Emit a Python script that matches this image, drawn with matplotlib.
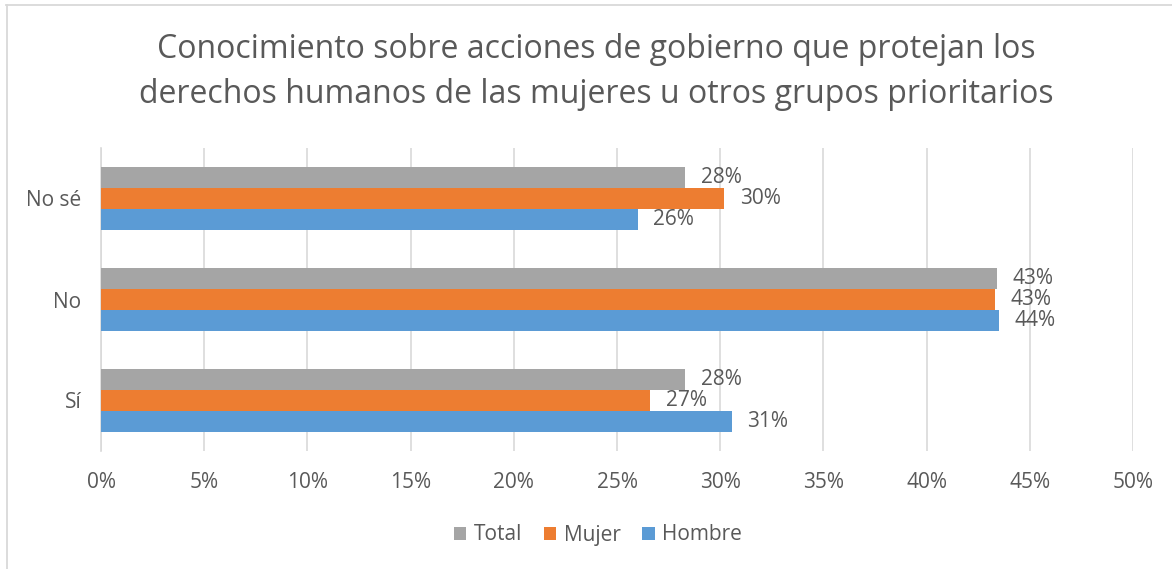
import matplotlib
matplotlib.use("Agg")
import matplotlib.pyplot as plt
from matplotlib.lines import Line2D
import numpy as np

categories = ["Sí", "No", "No sé"]
hombre = [30.55, 43.5, 26.0]
mujer = [26.6, 43.3, 30.2]
total = [28.3, 43.4, 28.3]
series_names = ["Hombre", "Mujer", "Total"]
colors = {"Hombre": "#5B9BD5", "Mujer": "#ED7D31", "Total": "#A5A5A5"}
xticks = [0, 5, 10, 15, 20, 25, 30, 35, 40, 45, 50]
title = "Conocimiento sobre acciones de gobierno que protejan los\nderechos humanos de las mujeres u otros grupos prioritarios"

plt.rcParams['font.family'] = ['Open Sans', 'DejaVu Sans']
text_color = "#595959"

fig = plt.figure(figsize=(11.72, 5.69), dpi=100)
# chart-area border (only top and left visible in the reference)
fig.add_artist(Line2D([6/1172, 1], [1 - 4.5/569, 1 - 4.5/569], transform=fig.transFigure,
                      color="#D9D9D9", linewidth=1.3))
fig.add_artist(Line2D([6.5/1172, 6.5/1172], [0, 1 - 4.5/569], transform=fig.transFigure,
                      color="#D9D9D9", linewidth=1.3))
ax = fig.add_axes([101/1172, 1 - 451/569, (1133 - 101)/1172, (451 - 148)/569])

data = {"Hombre": hombre, "Mujer": mujer, "Total": total}
y = np.arange(len(categories))
h = 0.205
offsets = {"Hombre": -h, "Mujer": 0.0, "Total": h}
for name in series_names:
    vals = data[name]
    bars = ax.barh(y + offsets[name], vals, height=h, color=colors[name], label=name, zorder=3)
    for b, v in zip(bars, vals):
        ax.text(v + 0.75, b.get_y() + b.get_height() / 2, f"{int(v + 0.5)}%",
                va="center", ha="left", fontsize=15, color=text_color, zorder=4)

ax.set_xlim(0, 50)
ax.set_ylim(-0.5, 2.5)
ax.set_xticks(xticks)
ax.set_xticklabels([f"{t}%" for t in xticks])
ax.set_yticks(y)
ax.set_yticklabels(categories)
ax.tick_params(axis="both", length=0, labelsize=15, labelcolor=text_color)
ax.tick_params(axis="x", pad=15)
ax.tick_params(axis="y", pad=14)
ax.grid(axis="x", color="#D9D9D9", linewidth=1.2, zorder=0)
for s in ["top", "right", "bottom"]:
    ax.spines[s].set_visible(False)
ax.spines["left"].set_color("#D9D9D9")
ax.spines["left"].set_linewidth(1.2)

fig.text(596/1172, 1 - 72/569, title, ha="center", va="center", fontsize=23,
         color=text_color, linespacing=1.5)

handles, labels = ax.get_legend_handles_labels()
order = [2, 1, 0]
leg = fig.legend([handles[i] for i in order], [labels[i] for i in order],
                 loc="center", bbox_to_anchor=(598/1172, 1 - 535/569), ncol=3,
                 frameon=False, fontsize=15, handlelength=0.6, handleheight=0.6,
                 handletextpad=0.35, columnspacing=1.05)
for t in leg.get_texts():
    t.set_color(text_color)

fig.savefig("out.png", dpi=100)
